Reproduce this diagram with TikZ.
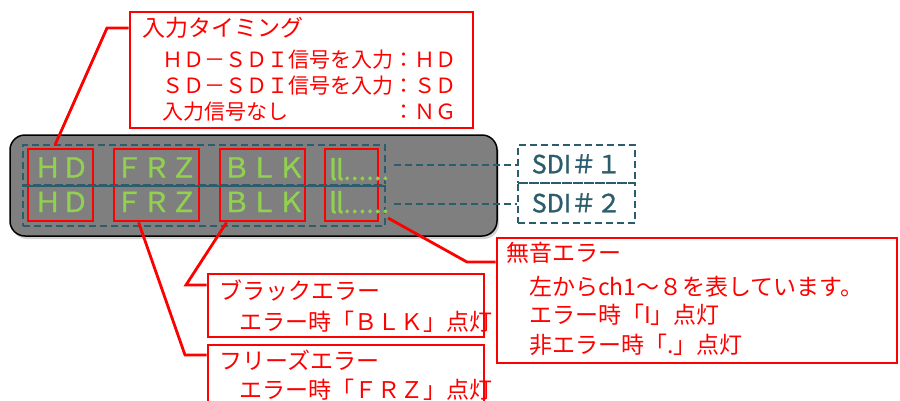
\documentclass[tikz,border=0pt]{standalone}
\usepackage{fontspec}
\setmainfont{Noto Sans CJK JP}
\newfontfamily\boldish[FakeBold=1.2]{Noto Sans CJK JP}
\usetikzlibrary{shadows}
\definecolor{rd}{RGB}{255,0,0}
\definecolor{tl}{RGB}{44,93,108}
\definecolor{gn}{RGB}{146,208,80}
\definecolor{gy}{RGB}{127,127,127}
\newcommand\fsz[1]{\fontsize{#1}{#1}\selectfont}
\begin{document}
\begin{tikzpicture}[x=1pt,y=-1pt,
  rbox/.style={draw=rd, line width=2.8pt, inner sep=0pt, minimum width=#1},
  rtext/.style={anchor=base west, inner sep=0pt, text=rd, font=\fsz{#1}},
  gtext/.style={anchor=base, inner sep=0pt, text=gn, font=\boldish\fsz{27.5}},
  tdashbox/.style={draw=tl, line width=2pt, dash pattern=on 7pt off 4pt, inner sep=0pt},
  tdash/.style={draw=tl, line width=2pt, dash pattern=on 7pt off 4pt},
  rline/.style={draw=rd, line width=2.8pt},
  panel/.style={draw=black, line width=1.5pt, fill=gy, rounded corners=15pt,
    drop shadow={shadow xshift=2pt, shadow yshift=-3pt, opacity=0.35}}]
\useasboundingbox (0,0) rectangle (900,400);

% top description box
\node[rbox=343pt, minimum height=116pt] (tb) at (301.5,70) {};
\node[rtext=23] (tb1) at (142,36) {入力タイミング};
\node[rtext=21] (tb2) at (162,67) {ＨＤ－ＳＤＩ信号を入力：ＨＤ};
\node[rtext=21] (tb3) at (162,93) {ＳＤ－ＳＤＩ信号を入力：ＳＤ};
\node[rtext=21] (tb4) at (162,119.5) {入力信号なし　　　　　：ＮＧ};

% panel
\node[panel, minimum width=487pt, minimum height=101pt, inner sep=0pt] (pn) at (253.5,185.5) {};

% SDI row boxes
\node[tdashbox, minimum width=362pt, minimum height=40pt] (r1) at (204,165) {};
\node[tdashbox, minimum width=362pt, minimum height=41pt] (r2) at (204,205.5) {};

% red column boxes
\node[rbox=65pt, minimum height=72pt] (hd) at (60.5,185) {};
\node[rbox=85pt, minimum height=72pt] (frz) at (156.5,185) {};
\node[rbox=85pt, minimum height=72pt] (blk) at (262.5,185) {};
\node[rbox=53pt, minimum height=72pt] (mu) at (351.5,185) {};

\draw[draw=tl, line width=2pt] (r1.south west) -- (r1.south east);

% green texts
\node[gtext] (g1) at (61.5,177.5) {ＨＤ};
\node[gtext] (g2) at (156.5,177.5) {ＦＲＺ};
\node[gtext] (g3) at (264,177.5) {ＢＬＫ};
\node[gtext, anchor=base west] (g4) at (329,180) {l\kern-1pt l\kern-0.5pt......};
\node[gtext] (h1) at (61.5,212) {ＨＤ};
\node[gtext] (h2) at (156.5,212) {ＦＲＺ};
\node[gtext] (h3) at (264,212) {ＢＬＫ};
\node[gtext, anchor=base west] (h4) at (329,213) {l\kern-1pt l\kern-0.5pt......};

% SDI labels
\node[tdashbox, line width=2.5pt, minimum width=117pt, minimum height=38pt, text=tl, font=\boldish\fsz{25}] (s1) at (576.5,164) {SDI＃１};
\node[tdashbox, line width=2.5pt, minimum width=117pt, minimum height=40pt, text=tl, font=\boldish\fsz{25}] (s2) at (576.5,203) {SDI＃２};
\draw[tdash] ([xshift=8pt]r1.east) -- (s1.west |- r1.east);
\draw[tdash] ([xshift=8pt,yshift=1.5pt]r2.east) -- (s2.west |- 0,204);

% black error box
\node[rbox=276pt, minimum height=63pt] (bb) at (346,305.5) {};
\node[rtext=23] (bb1) at (219,299.5) {ブラックエラー};
\node[rtext=23] (bb2) at (239,330) {エラー時「ＢＬＫ」点灯};

% freeze error box
\node[rbox=276pt, minimum height=75pt] (fb) at (346,382.5) {};
\node[rtext=23] (fb1) at (219,369) {フリーズエラー};
\node[rtext=23] (fb2) at (239,398) {エラー時「ＦＲＺ」点灯};

% mute error box
\node[rbox=400pt, minimum height=125pt] (mb) at (697,300.5) {};
\node[rtext=23] (mb1) at (506,261) {無音エラー};
\node[rtext=23] (mb2) at (529,295) {左からch1～８を表しています。};
\node[rtext=23] (mb3) at (529,323) {エラー時「I」点灯};
\node[rtext=23] (mb4) at (529,353) {非エラー時「.」点灯};

% leaders
\coordinate (k1) at (107,28);
\coordinate (k1e) at (55,145);
\draw[rline] (tb.west |- k1) -- (k1) -- (k1e);
\coordinate (k2) at (186,285);
\draw[rline] ([xshift=8pt]blk.south west) -- (k2) -- (k2 -| bb.west);
\coordinate (k3) at (185,355);
\draw[rline] ([xshift=26pt]frz.south west) -- (k3) -- (k3 -| fb.west);
\coordinate (k4) at (467,262);
\draw[rline] ([xshift=2pt,yshift=9pt]r2.south east) -- (k4) -- (k4 -| mb.west);
\end{tikzpicture}
\end{document}
